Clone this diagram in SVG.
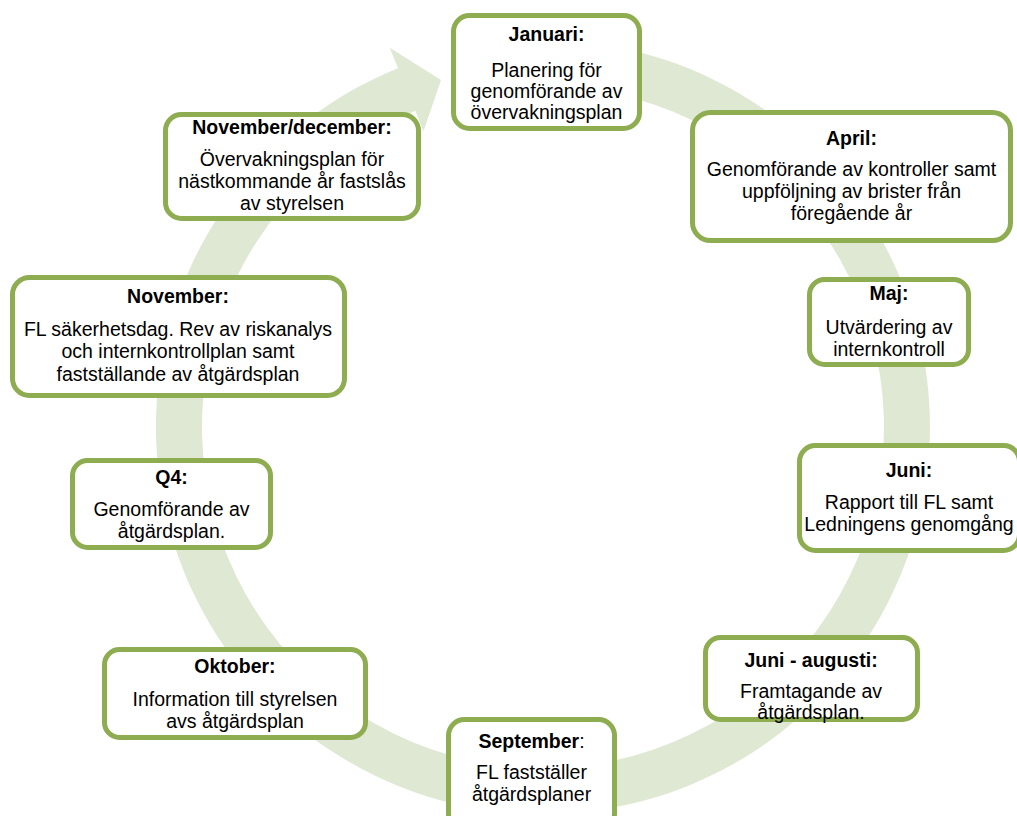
<svg xmlns="http://www.w3.org/2000/svg" width="1017" height="816" viewBox="0 0 1017 816">
<style>
.box{fill:#ffffff;stroke:#8eac50;stroke-width:5}
.t{font-family:"Liberation Sans",Arial,sans-serif;font-size:19.5px;fill:#000;text-anchor:middle}
.b{font-weight:bold}
.ring{fill:#dfe8d3}
</style>
<rect width="1017" height="816" fill="#ffffff"/>
<g id="connectors">
<path class="ring" d="M576.7,41.5 A387,387 0 1 1 398.0,68.2 L389.8,47.8 L441,80 L423.5,131.2 L415.3,110.8 A341,341 0 1 0 572.7,87.3 Z"/>
</g>
<g id="januari">
<rect class="box" x="453.5" y="15.5" width="186" height="113" rx="16"/>
<text class="t b" x="546.5" y="41">Januari:</text>
<text class="t" x="546.5" y="77">Planering för</text>
<text class="t" x="546.5" y="98">genomförande av</text>
<text class="t" x="546.5" y="119">övervakningsplan</text>
</g>
<g id="april">
<rect class="box" x="692.5" y="112.5" width="318" height="128" rx="18"/>
<text class="t b" x="851.5" y="145">April:</text>
<text class="t" x="851.5" y="176">Genomförande av kontroller samt</text>
<text class="t" x="851.5" y="198">uppföljning av brister från</text>
<text class="t" x="851.5" y="220">föregående år</text>
</g>
<g id="maj">
<rect class="box" x="809.5" y="279.5" width="159" height="85" rx="15"/>
<text class="t b" x="889" y="300">Maj:</text>
<text class="t" x="889" y="334">Utvärdering av</text>
<text class="t" x="889" y="356">internkontroll</text>
</g>
<g id="juni">
<rect class="box" x="799.5" y="445.5" width="220" height="105" rx="16"/>
<text class="t b" x="909" y="477">Juni:</text>
<text class="t" x="909" y="509">Rapport till FL samt</text>
<text class="t" x="909" y="531">Ledningens genomgång</text>
</g>
<g id="juni-augusti">
<rect class="box" x="705.5" y="637.5" width="212" height="82" rx="15"/>
<text class="t b" x="811" y="667">Juni - augusti:</text>
<text class="t" x="811" y="698">Framtagande av</text>
<text class="t" x="811" y="719">åtgärdsplan.</text>
</g>
<g id="september">
<rect class="box" x="448.5" y="719.5" width="166" height="110" rx="16"/>
<text class="t" x="531.5" y="748"><tspan class="b">September</tspan>:</text>
<text class="t" x="531.5" y="779">FL fastställer</text>
<text class="t" x="531.5" y="801">åtgärdsplaner</text>
</g>
<g id="oktober">
<rect class="box" x="104.5" y="649.5" width="261" height="88" rx="15"/>
<text class="t b" x="235" y="673">Oktober:</text>
<text class="t" x="235" y="706">Information till styrelsen</text>
<text class="t" x="235" y="728">avs åtgärdsplan</text>
</g>
<g id="q4">
<rect class="box" x="72.5" y="460.5" width="198" height="87" rx="15"/>
<text class="t b" x="171.5" y="484">Q4:</text>
<text class="t" x="171.5" y="516">Genomförande av</text>
<text class="t" x="171.5" y="538">åtgärdsplan.</text>
</g>
<g id="november">
<rect class="box" x="12.5" y="277.5" width="332" height="118" rx="17"/>
<text class="t b" x="178" y="303">November:</text>
<text class="t" x="178" y="336">FL säkerhetsdag. Rev av riskanalys</text>
<text class="t" x="178" y="358">och internkontrollplan samt</text>
<text class="t" x="178" y="381">fastställande av åtgärdsplan</text>
</g>
<g id="november-december">
<rect class="box" x="165.5" y="114.5" width="253" height="104" rx="16"/>
<text class="t b" x="292" y="134">November/december:</text>
<text class="t" x="292" y="166">Övervakningsplan för</text>
<text class="t" x="292" y="188">nästkommande år fastslås</text>
<text class="t" x="292" y="210">av styrelsen</text>
</g>
</svg>
